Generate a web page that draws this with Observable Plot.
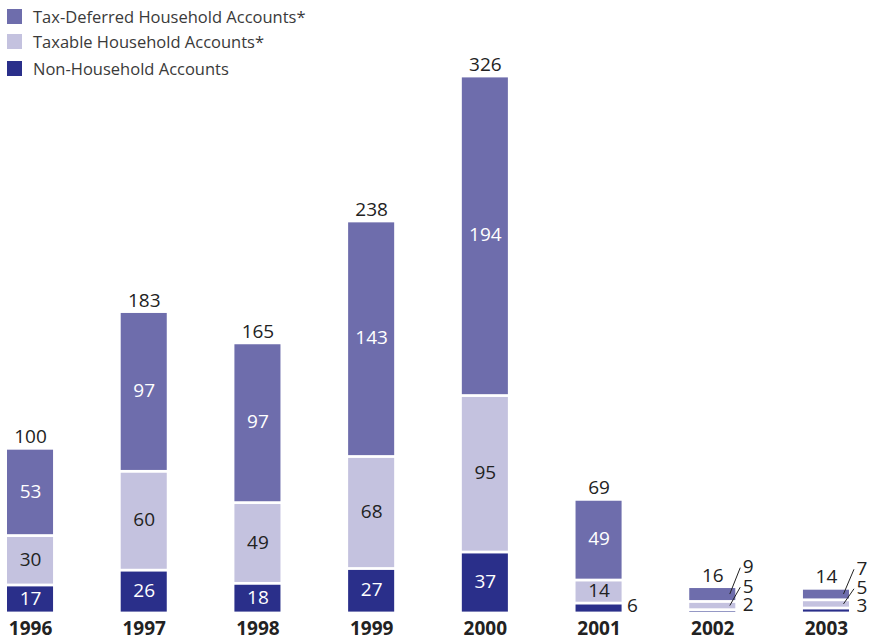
<!DOCTYPE html>
<html>
<head>
<meta charset="utf-8">
<script src="https://cdn.jsdelivr.net/npm/d3@7"></script>
<script src="https://cdn.jsdelivr.net/npm/@observablehq/plot@0.6"></script>
<style>
  html, body { margin: 0; padding: 0; background: #fff; }
  #wrap { position: relative; width: 876px; height: 642px; }
  #legend { position: absolute; left: 0; top: 0; font-family: "Open Sans", sans-serif; font-size: 16.5px; color: #3a3a3a; }
  .row { position: absolute; left: 7px; display: flex; align-items: center; white-space: nowrap; height: 16px; }
  .sw { width: 15px; height: 15px; margin-right: 11px; }
  #chart svg g[aria-label="x-axis tick label"] text { font-weight: bold; }
</style>
</head>
<body>
<div id="wrap">
  <div id="chart"></div>
  <div id="legend"></div>
</div>
<script>
const years = ["1996", "1997", "1998", "1999", "2000", "2001", "2002", "2003"];
const taxDeferred = [53, 97, 97, 143, 194, 49, 9, 7];
const taxable = [30, 60, 49, 68, 95, 14, 5, 5];
const nonHousehold = [17, 26, 18, 27, 37, 6, 2, 3];
const totals = [100, 183, 165, 238, 326, 69, 16, 14];

const seriesNames = ["Non-Household Accounts", "Taxable Household Accounts*", "Tax-Deferred Household Accounts*"];
const seriesValues = [nonHousehold, taxable, taxDeferred];
const seriesColors = ["#2a2f8a", "#c4c2df", "#6e6dac"];
const labelColors = ["#ffffff", "#222222", "#ffffff"];
const legendOrder = [2, 1, 0];
const legendTops = [9, 34, 61];
const calloutDy = [17.5, -0.5, -20];

// stacked rows derived from the arrays
const rows = [];
const tops = [];
years.forEach((year, i) => {
  let c = 0;
  const sum = seriesValues.reduce((a, vals) => a + vals[i], 0);
  seriesValues.forEach((vals, s) => {
    const v = vals[i];
    rows.push({year, series: seriesNames[s], s, value: v, y1: c, y2: c + v, mid: c + v / 2, total: totals[i], top: sum});
    c += v;
  });
  tops.push({year, top: sum, total: totals[i]});
});

const small = (d) => d.total < 20;
const inside = rows.filter(d => !small(d) && d.value >= 10);
const outside = rows.filter(d => !small(d) && d.value < 10);
const callouts = rows.filter(d => small(d));
const FONT = 19;

const chart = Plot.plot({
  width: 876,
  height: 642,
  marginTop: 76,
  marginBottom: 29,
  marginLeft: 7,
  marginRight: 27,
  style: {fontFamily: "Open Sans, sans-serif", fontSize: FONT + "px", color: "#222", background: "transparent"},
  x: {domain: years, paddingInner: 0.595, paddingOuter: 0, round: false, axis: null},
  y: {domain: [0, 326], axis: null},
  color: {domain: seriesNames, range: seriesColors},
  marks: [
    Plot.barY(rows, {x: "year", y1: "y1", y2: "y2", fill: "series", insetTop: 1.4, insetBottom: 1.4}),
    Plot.text(inside, {x: "year", y: "mid", text: d => String(d.value), fill: d => labelColors[d.s], fontSize: FONT, dy: -1}),
    Plot.text(outside, {x: "year", y: "mid", text: d => String(d.value), fill: "#222", fontSize: FONT, textAnchor: "start", dx: 28, dy: -3}),
    ...[0, 1, 2].map(s => Plot.text(callouts.filter(d => d.s === s), {
      x: "year", y: "top", text: d => String(d.value), fill: "#222", fontSize: FONT,
      textAnchor: "start", dx: 30, dy: calloutDy[s]
    })),
    Plot.text(tops, {x: "year", y: "top", text: d => String(d.total), fill: "#222", fontSize: FONT, dy: -11.5}),
    Plot.axisX({tickSize: 0, tickPadding: 8, fontSize: FONT, fontWeight: "bold", fill: "#222", label: null})
  ]
});

document.getElementById("chart").appendChild(chart);

// Leader lines from the small segments to their labels, placed through the chart's scales
const xs = chart.scale("x");
const ys = chart.scale("y");
const bw = xs.bandwidth;
const g = d3.select(chart).append("g").attr("stroke", "#222").attr("stroke-width", 1);
callouts.filter(d => d.s > 0).forEach(d => {
  const cx = xs.apply(d.year) + bw / 2;
  const top = ys.apply(d.top);
  g.append("line")
    .attr("x1", cx + 17.5).attr("y1", ys.apply(d.mid))
    .attr("x2", cx + 28).attr("y2", top + calloutDy[d.s] + 1);
});

// Legend (HTML, overlaid at top-left)
const legend = d3.select("#legend");
legendOrder.forEach((s, k) => {
  const row = legend.append("div").attr("class", "row").style("top", legendTops[k] - 0.5 + "px");
  row.append("div").attr("class", "sw").style("background", seriesColors[s]);
  row.append("span").text(seriesNames[s]);
});
</script>
</body>
</html>
